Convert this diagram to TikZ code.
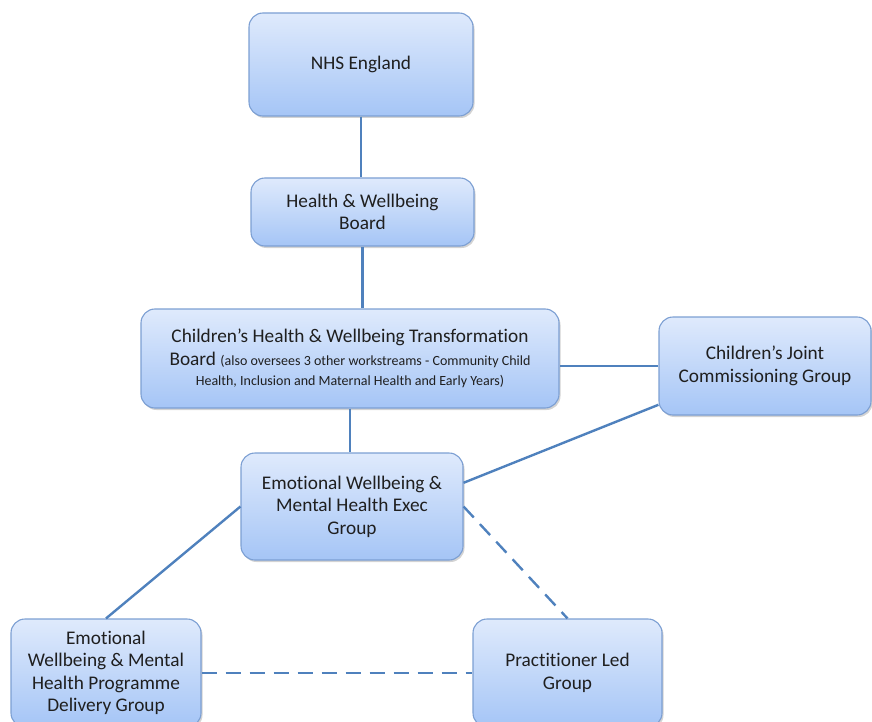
\documentclass[tikz,border=0pt]{standalone}
\usepackage{fontspec}
\setmainfont{Carlito}[Ligatures=NoCommon]
\usetikzlibrary{shadows, positioning}
\definecolor{boxtop}{HTML}{DFEAFC}
\definecolor{boxbot}{HTML}{A5C5F6}
\definecolor{boxline}{HTML}{7C9FD3}
\definecolor{link}{HTML}{4F81BD}
\newcommand{\smallnote}[1]{{\fontsize{14}{20}\selectfont #1}}

\begin{document}
\begin{tikzpicture}[x=1pt, y=-1pt, semithick,
    link/.style={draw=link, line width=2.4pt},
    dashlink/.style={link, dash pattern=on 15pt off 9pt}]
      \tikzstyle{box}=[rectangle, rounded corners=14pt, draw=boxline, line width=1.1pt,
        top color=boxtop, bottom color=boxbot, text=black!88,
        drop shadow={shadow xshift=1.5pt, shadow yshift=-2pt, opacity=0.35},
        align=center, font=\fontsize{19.3}{22.5}\selectfont, inner sep=0pt]
      \useasboundingbox (0,0) rectangle (872,722);
      \node[box, minimum width=224pt, minimum height=103pt] (nhs) at (361,64.5) {NHS England};
      \node[box, minimum width=223pt, minimum height=68pt] (hwb) at (362.5,212) {Health \& Wellbeing\\Board};
      \node[box, minimum width=418pt, minimum height=99pt] (chwtb) at (350,358.5)
        {Children’s Health \& Wellbeing Transformation\\
         Board \smallnote{(also oversees 3 other workstreams - Community Child}\\[-2.5pt]
         \smallnote{Health, Inclusion and Maternal Health and Early Years)}};
      \node[box, minimum width=212pt, minimum height=98pt] (cjcg) at (765,366) {Children’s Joint\\Commissioning Group};
      \node[box, minimum width=222pt, minimum height=107pt] (exec) at (352,506.5)
        {Emotional Wellbeing \&\\Mental Health Exec\\Group};
      \node[box, minimum width=190pt, minimum height=108pt] (deliv) at (106,673)
        {Emotional\\Wellbeing \& Mental\\Health Programme\\Delivery Group};
      \node[box, minimum width=189pt, minimum height=108pt] (prac) at (567.5,673) {Practitioner Led\\Group};
      % solid links
      \path[link] (nhs.south) -- (nhs.south |- hwb.north);
      \path[link] (hwb.south) -- (hwb.south |- chwtb.north);
      \path[link] (cjcg.west) -- (cjcg.west -| chwtb.east);
      \path[link] (chwtb.south) -- (chwtb.south |- exec.north);
      \path[link] (exec.12) -- (cjcg.200);
      \path[link] (exec.west) -- (deliv.north);
      % dashed links
      \path[dashlink] (exec.east) -- (prac.north);
      \path[dashlink] (deliv.east) -- (prac.west);
    \end{tikzpicture}
\end{document}
